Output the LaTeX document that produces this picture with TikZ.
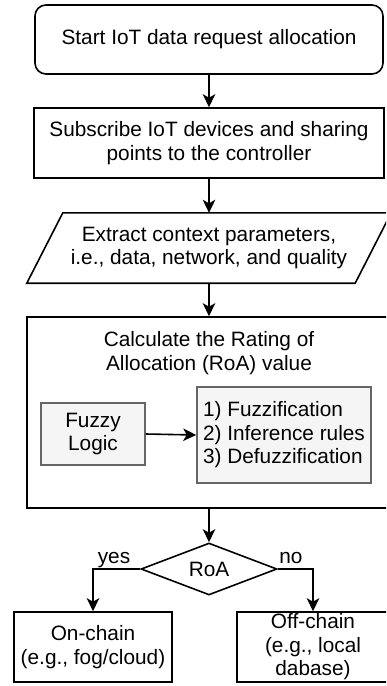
\documentclass[tikz,border=0pt]{standalone}
\usepackage{fontspec}
\setmainfont{Liberation Sans}
\usetikzlibrary{shapes.geometric,arrows.meta}

\begin{document}
\begin{tikzpicture}[x=1pt,y=-1pt,
  txt/.style={font=\fontsize{20.8}{23.5}\selectfont, align=center, inner sep=0pt},
  stepbox/.style={txt, draw, line width=1.6pt, rectangle},
  graybox/.style={stepbox, draw=black!60, fill=black!4},
  decision/.style={txt, draw, line width=1.6pt, diamond, aspect=2.6},
  conn/.style={line width=1.6pt, -{Stealth[length=13pt,width=12.5pt,inset=3.5pt]}},
  lbl/.style={font=\fontsize{20.8}{23.5}\selectfont, inner sep=0pt, anchor=base}
]
\useasboundingbox (0,0) rectangle (386,686);
\clip (0,0) rectangle (386,686);

% start of the procedure
\node[stepbox, rounded corners=11pt, minimum width=348pt, minimum height=69pt]
  (start) at (209,39.5) {Start IoT data request allocation};

% subscription step
\node[stepbox, minimum width=350pt, minimum height=70pt]
  (sub) at (209,143) {Subscribe IoT devices and sharing\\points to the controller};

% input/output step drawn as a parallelogram around a plain text node
\node[txt, minimum width=364pt, minimum height=70pt]
  (ext) at (209,248) {Extract context parameters,\\i.e., data, network, and quality};
\draw[line width=1.6pt, line join=miter]
  (ext.south west) -- ([xshift=36pt]ext.north west) -- (ext.north east)
  -- ([xshift=-36pt]ext.south east) -- cycle;

% rating calculation block
\node[stepbox, minimum width=364pt, minimum height=191pt]
  (calc) at (209,412.5) {};
\node[txt] (calctitle) at (209,353) {Calculate the Rating of\\Allocation (RoA) value};
\node[graybox, minimum width=104pt, minimum height=62pt]
  (fuzzy) at (93,434) {Fuzzy\\Logic};
\node[graybox, minimum width=174pt, minimum height=96pt, align=left]
  (stages) at (284,435) {1) Fuzzification\\2) Inference rules\\3) Defuzzification};

% decision and outcomes
\node[decision, minimum width=136pt, minimum height=52pt]
  (roa) at (209,569) {RoA};
\node[stepbox, minimum width=158pt, minimum height=70pt]
  (on) at (93,647) {On-chain\\(e.g., fog/cloud)};
\node[stepbox, minimum width=152pt, minimum height=70pt]
  (off) at (313,647) {Off-chain\\(e.g., local\\dabase)};

% connectors
\draw[conn] (start.south) -- (sub.north);
\draw[conn] (sub.south) -- (ext.north);
\draw[conn] (ext.south) -- (calc.north);
\draw[conn] (fuzzy.east) -- (stages.west);
\draw[conn] (calc.south) -- (roa.north);
\draw[conn] (roa.west) -| (on.north);
\draw[conn] (roa.east) -| (off.north);

% branch labels
\node[lbl] (yes) at (114,563) {yes};
\node[lbl] (no) at (291,563) {no};
\end{tikzpicture}
\end{document}
